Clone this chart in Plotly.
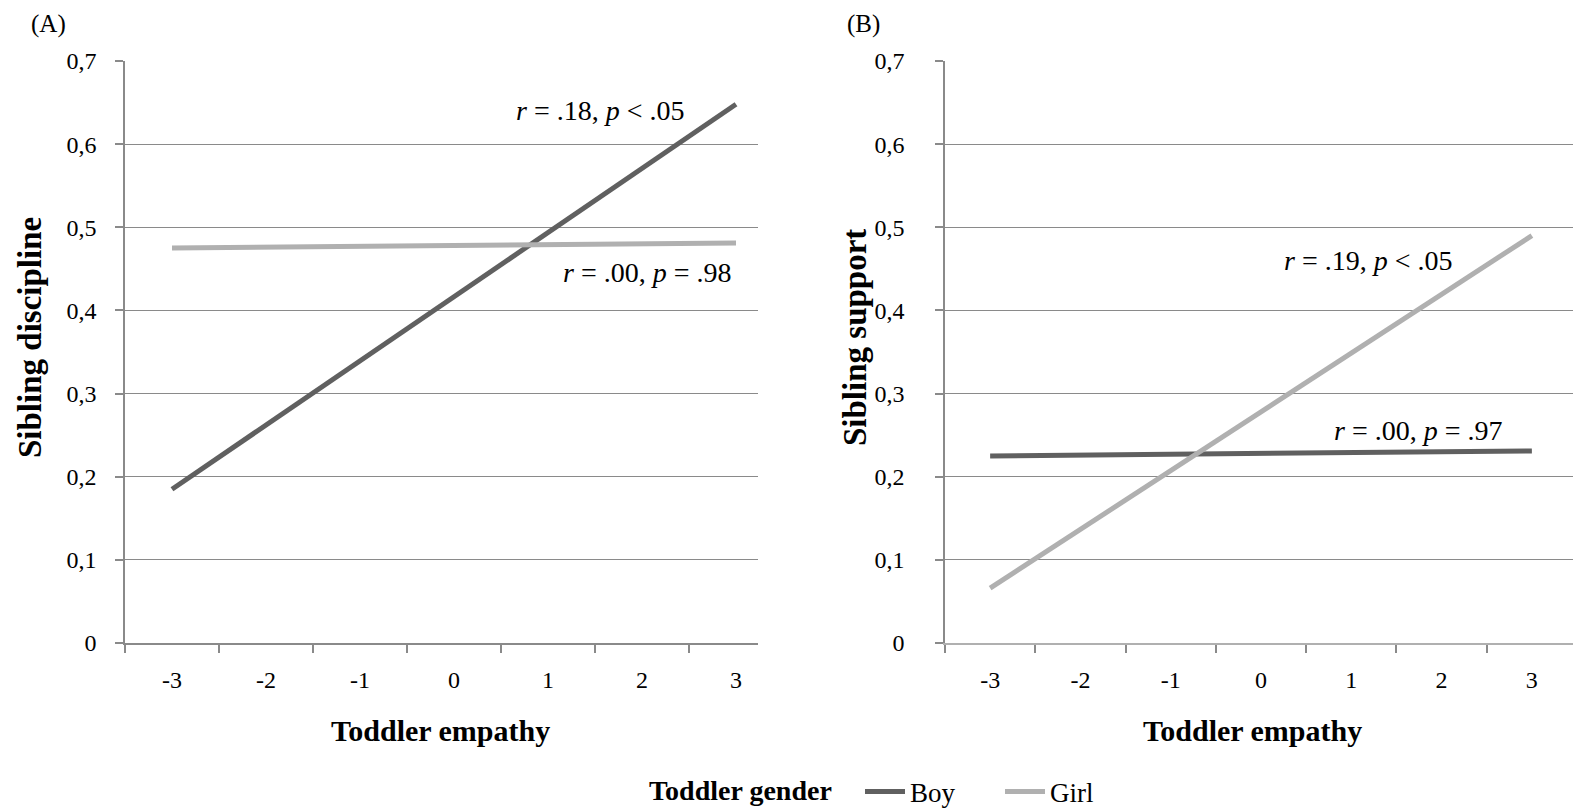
import plotly.graph_objects as go

# data
empathy = [-3, 3]
categories = [-3, -2, -1, 0, 1, 2, 3]
category_labels = ["-3", "-2", "-1", "0", "1", "2", "3"]
y_ticks = [0, 0.1, 0.2, 0.3, 0.4, 0.5, 0.6, 0.7]

discipline_boy = [0.185, 0.648]
discipline_girl = [0.475, 0.481]
support_boy = [0.225, 0.231]
support_girl = [0.066, 0.490]

BOY = "#606060"
GIRL = "#b0b0b0"
GRID = "#8a8a8a"
FONT = "Liberation Serif"

fig = go.Figure()

fig.add_trace(go.Scatter(x=empathy, y=discipline_boy, mode="lines", name="Boy",
                         line=dict(color=BOY, width=5), xaxis="x", yaxis="y"))
fig.add_trace(go.Scatter(x=empathy, y=discipline_girl, mode="lines", name="Girl",
                         line=dict(color=GIRL, width=5), xaxis="x", yaxis="y"))
fig.add_trace(go.Scatter(x=empathy, y=support_boy, mode="lines", name="Boy",
                         line=dict(color=BOY, width=5), xaxis="x2", yaxis="y2",
                         showlegend=False))
fig.add_trace(go.Scatter(x=empathy, y=support_girl, mode="lines", name="Girl",
                         line=dict(color=GIRL, width=5), xaxis="x2", yaxis="y2",
                         showlegend=False))

# the page body has an 8px margin, so the figure is drawn 8px in from the corner
OFF = 8
W, H = 1581 - OFF, 809 - OFF


def px(x):
    return (x - OFF) / W


def py(y):
    return (H - (y - OFF)) / H


half = [c - 0.5 for c in categories] + [categories[-1] + 0.5]

xaxis_common = dict(
    tickvals=categories, ticktext=category_labels, ticks="", showgrid=False,
    zeroline=False, showline=True, linecolor=GRID, linewidth=1.5,
    tickfont=dict(size=24, color="black"), ticklabelstandoff=14,
    minor=dict(tickvals=half, ticks="outside", ticklen=8, tickcolor=GRID, tickwidth=1.5),
    fixedrange=True,
)
yaxis_common = dict(
    range=[0, 0.7], tickvals=y_ticks, ticks="outside", ticklen=8, tickcolor=GRID,
    tickwidth=1.5, showgrid=True, gridcolor=GRID, gridwidth=1.3, zeroline=False,
    showline=True, linecolor=GRID, linewidth=1.5,
    tickfont=dict(size=24, color="black"),
)

fig.update_layout(
    width=W, height=H,
    margin=dict(l=0, r=0, t=0, b=0, autoexpand=False),
    paper_bgcolor="white", plot_bgcolor="white",
    separators=",.",
    font=dict(family=FONT, color="black", size=24),
    xaxis=dict(domain=[px(125), px(758)], range=[-3.5, 3.234], anchor="y", **xaxis_common),
    yaxis=dict(domain=[py(643), py(61)], anchor="x", ticklabelstandoff=14, **yaxis_common),
    xaxis2=dict(domain=[px(945), px(1577)], range=[-3.5, 3.5], anchor="y2",
                **{**xaxis_common, "linecolor": "#b0b0b0"}),
    yaxis2=dict(domain=[py(643), py(61)], anchor="x2", ticklabelstandoff=26, **yaxis_common),
    legend=dict(
        orientation="h", x=px(860), y=py(792), xanchor="left", yanchor="middle",
        font=dict(size=27), bgcolor="rgba(0,0,0,0)", itemwidth=40,
        entrywidth=85, entrywidthmode="pixels",
    ),
    showlegend=True,
)


def note(text, x, y, size, angle=0, xref="paper", yref="paper", xanchor="center"):
    return dict(text=text, x=x, y=y, xref=xref, yref=yref, xanchor=xanchor,
                yanchor="middle", showarrow=False, textangle=angle,
                font=dict(size=size))


annotations = [
    note("(A)", px(48), py(24), 25),
    note("(B)", px(863), py(24), 25),
    note("<b>Sibling discipline</b>", px(30), py(338), 33, angle=-90),
    note("<b>Sibling support</b>", px(855), py(338), 33, angle=-90),
    note("<b>Toddler empathy</b>", px(440), py(730), 30),
    note("<b>Toddler empathy</b>", px(1252), py(730), 30),
    note("<b>Toddler gender</b>", px(834), py(790), 28, xanchor="right"),
    note("<i>r</i> = .18, <i>p</i> < .05", 2.48, 0.641, 28, xref="x", yref="y", xanchor="right"),
    note("<i>r</i> = .00, <i>p</i> = .98", 2.98, 0.446, 28, xref="x", yref="y", xanchor="right"),
    note("<i>r</i> = .19, <i>p</i> < .05", 2.15, 0.46, 28, xref="x2", yref="y2", xanchor="right"),
    note("<i>r</i> = .00, <i>p</i> = .97", 2.70, 0.255, 28, xref="x2", yref="y2", xanchor="right"),
    dict(text="<i>Figure 1</i>", x=px(18), y=py(801), xref="paper", yref="paper",
         xanchor="left", yanchor="top", showarrow=False, font=dict(size=26)),
]
fig.update_layout(annotations=annotations)

fig.write_html("out.html")
